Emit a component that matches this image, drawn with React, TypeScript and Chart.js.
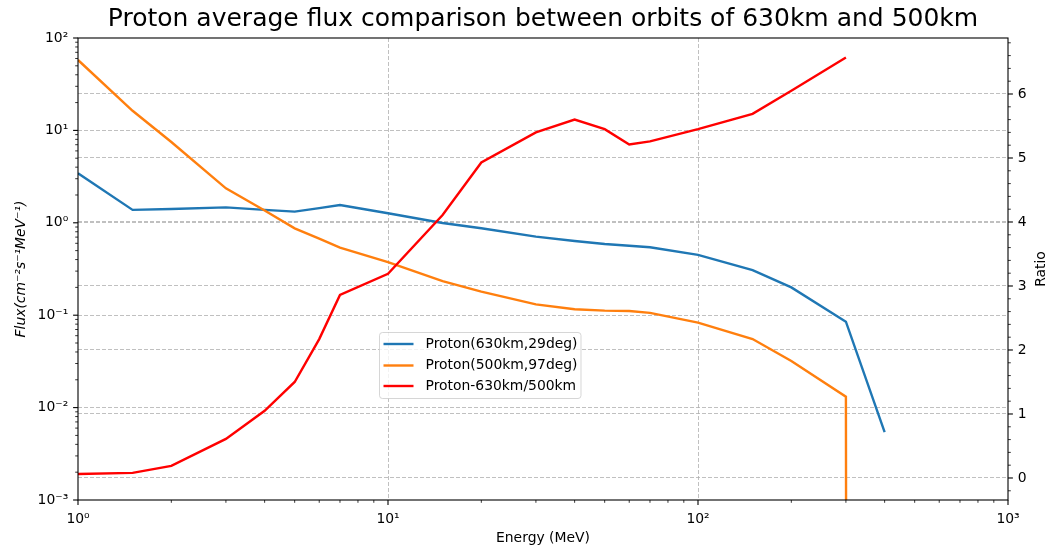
import React, { useEffect, useRef } from "react";
import { Chart, registerables } from "chart.js";

Chart.register(...registerables);

// ---------------- data ----------------
const ENERGY_MEV = [1, 1.5, 2, 3, 4, 5, 6, 7, 10, 15, 20, 30, 40, 50, 60, 70, 100, 150, 200, 300, 400];
const FLUX_630KM = [3.43, 1.38, 1.41, 1.47, 1.38, 1.32, 1.44, 1.56, 1.27, 0.995, 0.873, 0.708, 0.636, 0.59, 0.565, 0.543, 0.449, 0.308, 0.2, 0.085, 0.00544];
const FLUX_500KM = [57.8, 16.3, 7.49, 2.36, 1.36, 0.871, 0.675, 0.538, 0.375, 0.234, 0.18, 0.131, 0.116, 0.112, 0.111, 0.106, 0.083, 0.0552, 0.0319, 0.0131, 0];
const RATIO = [0.0625, 0.08, 0.19, 0.61, 1.05, 1.5, 2.17, 2.86, 3.19, 4.11, 4.93, 5.4, 5.6, 5.45, 5.21, 5.26, 5.45, 5.69, 6.05, 6.57, null];

const SERIES_LABELS = ["Proton(630km,29deg)", "Proton(500km,97deg)", "Proton-630km/500km"];
const TITLE = "Proton average flux comparison between orbits of 630km and 500km";
const X_LABEL = "Energy (MeV)";
const Y_LABEL = "Flux(cm⁻²s⁻¹MeV⁻¹)";
const Y2_LABEL = "Ratio";

const X_MAJOR = [1, 10, 100, 1000];
const Y_MAJOR = [1e-3, 1e-2, 1e-1, 1, 10, 100];
const RATIO_MAJOR = [0, 1, 2, 3, 4, 5, 6];
const RATIO_RANGE = [-0.344, 6.875];

// ---------------- helpers ----------------
const FONT = "DejaVu Sans";
const FS = 13.9;
const LW = 2.4;
const GRID_COLOR = "#b0b0b0";
const GRID_DASH = [4, 2];
const LOG_CLIP = 1e-300; // like matplotlib's nonpositive='clip'

const SUP: Record<string, string> = {
  "-": "⁻", "0": "⁰", "1": "¹", "2": "²", "3": "³", "4": "⁴", "5": "⁵", "6": "⁶", "7": "⁷", "8": "⁸", "9": "⁹",
};
const pow10Label = (v: number) =>
  "10" + String(Math.round(Math.log10(v))).split("").map((c) => SUP[c]).join("");

function logTicks(majors: number[]) {
  const out: any[] = [];
  majors.forEach((m, i) => {
    out.push({ value: m, isMajor: true });
    if (i < majors.length - 1) {
      for (let k = 2; k <= 9; k++) out.push({ value: m * k, isMajor: false });
    }
  });
  return out;
}
function linTicks(majors: number[], range: number[]) {
  const out: any[] = [];
  const lo = Math.ceil(range[0] * 5);
  const hi = Math.floor(range[1] * 5);
  for (let i = lo; i <= hi; i++) {
    const v = i / 5;
    out.push({ value: v, isMajor: majors.includes(v) });
  }
  return out;
}

const gridColorFor = (ctx: any, lo: number, hi: number) => {
  const t = ctx.tick;
  if (!t || !t.isMajor) return "transparent";
  if (t.value <= lo || t.value >= hi) return "transparent";
  return GRID_COLOR;
};

const decorPlugin = {
  id: "decor",
  afterDraw(chart: any) {
    const ctx = chart.ctx as CanvasRenderingContext2D;
    const ca = chart.chartArea;
    ctx.save();
    ctx.strokeStyle = "#000";
    // tick marks
    for (const id of ["x", "y", "y2"]) {
      const s = chart.scales[id];
      for (const t of s.ticks) {
        const major = t.isMajor;
        const len = major ? 4.9 : 2.8;
        ctx.lineWidth = major ? 1.1 : 0.8;
        const p = s.getPixelForValue(t.value);
        ctx.beginPath();
        if (id === "x") {
          ctx.moveTo(p, ca.bottom);
          ctx.lineTo(p, ca.bottom + len);
        } else if (id === "y") {
          ctx.moveTo(ca.left, p);
          ctx.lineTo(ca.left - len, p);
        } else {
          ctx.moveTo(ca.right, p);
          ctx.lineTo(ca.right + len, p);
        }
        ctx.stroke();
      }
    }
    // frame
    ctx.lineWidth = 1.1;
    ctx.strokeRect(ca.left, ca.top, ca.right - ca.left, ca.bottom - ca.top);

    // right axis label (reads bottom-to-top as in matplotlib)
    ctx.save();
    ctx.translate(ca.right + 33, (ca.top + ca.bottom) / 2);
    ctx.rotate(-Math.PI / 2);
    ctx.fillStyle = "#000";
    ctx.font = `${FS}px "${FONT}"`;
    ctx.textAlign = "center";
    ctx.textBaseline = "middle";
    ctx.fillText(Y2_LABEL, 0, 0);
    ctx.restore();

    // legend
    const lx = ca.left + 301.5;
    const ly = ca.top + 294.5;
    const lw = 201.5;
    const lh = 66;
    const r = 3;
    ctx.beginPath();
    ctx.moveTo(lx + r, ly);
    ctx.lineTo(lx + lw - r, ly);
    ctx.arcTo(lx + lw, ly, lx + lw, ly + r, r);
    ctx.lineTo(lx + lw, ly + lh - r);
    ctx.arcTo(lx + lw, ly + lh, lx + lw - r, ly + lh, r);
    ctx.lineTo(lx + r, ly + lh);
    ctx.arcTo(lx, ly + lh, lx, ly + lh - r, r);
    ctx.lineTo(lx, ly + r);
    ctx.arcTo(lx, ly, lx + r, ly, r);
    ctx.closePath();
    ctx.fillStyle = "rgba(255,255,255,0.8)";
    ctx.fill();
    ctx.strokeStyle = "rgba(204,204,204,0.8)";
    ctx.lineWidth = 1;
    ctx.stroke();
    const rows = [11.5, 33, 53.5];
    chart.data.datasets.forEach((ds: any, i: number) => {
      const yy = ly + rows[i];
      ctx.strokeStyle = ds.borderColor;
      ctx.lineWidth = LW;
      ctx.beginPath();
      ctx.moveTo(lx + 4, yy);
      ctx.lineTo(lx + 34, yy);
      ctx.stroke();
      ctx.fillStyle = "#000";
      ctx.font = `${FS}px "${FONT}"`;
      ctx.textAlign = "left";
      ctx.textBaseline = "middle";
      ctx.fillText(ds.label, lx + 46, yy);
    });
    ctx.restore();
  },
};

export default function App() {
  const ref = useRef<HTMLCanvasElement | null>(null);

  useEffect(() => {
    if (!ref.current) return;
    Chart.defaults.font.family = FONT;
    Chart.defaults.color = "#000";

    const pts = (ys: (number | null)[], floor: boolean) =>
      ENERGY_MEV.map((x, i) => {
        const y = ys[i];
        if (y === null) return { x, y: null };
        return { x, y: floor && y <= 0 ? LOG_CLIP : y };
      });

    const chart = new Chart(ref.current, {
      type: "line",
      data: {
        datasets: [
          {
            label: SERIES_LABELS[0],
            data: pts(FLUX_630KM, true) as any,
            borderColor: "#1f77b4",
            backgroundColor: "#1f77b4",
            borderWidth: LW,
            pointRadius: 0,
            tension: 0,
            yAxisID: "y",
            order: 3,
          },
          {
            label: SERIES_LABELS[1],
            data: pts(FLUX_500KM, true) as any,
            borderColor: "#ff7f0e",
            backgroundColor: "#ff7f0e",
            borderWidth: LW,
            pointRadius: 0,
            tension: 0,
            yAxisID: "y",
            order: 2,
          },
          {
            label: SERIES_LABELS[2],
            data: pts(RATIO, false) as any,
            borderColor: "#ff0000",
            backgroundColor: "#ff0000",
            borderWidth: LW,
            pointRadius: 0,
            tension: 0,
            yAxisID: "y2",
            order: 1,
          },
        ],
      },
      options: {
        animation: false,
        responsive: false,
        events: [],
        layout: { padding: 0 },
        plugins: {
          legend: { display: false },
          tooltip: { enabled: false },
          title: {
            display: true,
            text: TITLE,
            fullSize: false,
            color: "#000",
            font: { size: 25, weight: "normal", family: FONT, lineHeight: 1.2 },
            padding: { top: 4.3, bottom: 3.7 },
          },
        },
        scales: {
          x: {
            type: "logarithmic",
            position: "bottom",
            min: 1,
            max: 1000,
            afterBuildTicks: (s: any) => {
              s.ticks = logTicks(X_MAJOR);
            },
            afterFit: (s: any) => {
              s.height = 57;
            },
            ticks: {
              autoSkip: false,
              maxRotation: 0,
              minRotation: 0,
              padding: 11.5,
              font: { size: FS },
              callback: (v: any, i: number, ticks: any[]) => (ticks[i] && ticks[i].isMajor ? pow10Label(Number(v)) : ""),
            },
            grid: {
              drawTicks: false,
              lineWidth: 0.8,
              color: (ctx: any) => gridColorFor(ctx, 1, 1000),
            },
            border: { display: false, dash: GRID_DASH },
            title: {
              display: true,
              text: X_LABEL,
              font: { size: FS },
              padding: { top: 0, bottom: 10.5 },
            },
          },
          y: {
            type: "logarithmic",
            position: "left",
            min: 1e-3,
            max: 100,
            afterBuildTicks: (s: any) => {
              s.ticks = logTicks(Y_MAJOR);
            },
            afterFit: (s: any) => {
              s.width = 78;
            },
            ticks: {
              autoSkip: false,
              padding: 9.8,
              font: { size: FS },
              callback: (v: any, i: number, ticks: any[]) => (ticks[i] && ticks[i].isMajor ? pow10Label(Number(v)) : ""),
            },
            grid: {
              drawTicks: false,
              lineWidth: 0.8,
              color: (ctx: any) => gridColorFor(ctx, 1e-3, 100),
            },
            border: { display: false, dash: GRID_DASH },
            title: {
              display: true,
              text: Y_LABEL,
              font: { size: FS, style: "italic" },
              padding: { top: 12.7, bottom: 0 },
            },
          },
          y2: {
            type: "linear",
            position: "right",
            min: RATIO_RANGE[0],
            max: RATIO_RANGE[1],
            afterBuildTicks: (s: any) => {
              s.ticks = linTicks(RATIO_MAJOR, RATIO_RANGE);
            },
            afterFit: (s: any) => {
              s.width = 48;
            },
            ticks: {
              autoSkip: false,
              padding: 9.8,
              font: { size: FS },
              callback: (v: any, i: number, ticks: any[]) => (ticks[i] && ticks[i].isMajor ? String(Math.round(Number(v))) : ""),
            },
            grid: {
              drawTicks: false,
              lineWidth: 0.8,
              color: (ctx: any) => gridColorFor(ctx, RATIO_RANGE[0], RATIO_RANGE[1]),
            },
            border: { display: false, dash: GRID_DASH },
            title: { display: false },
          },
        },
      },
      plugins: [decorPlugin],
    } as any);

    return () => chart.destroy();
  }, []);

  return (
    <div style={{ position: "absolute", left: 0, top: 0, width: 1056, height: 557, background: "#fff" }}>
      <canvas ref={ref} width={1056} height={557} style={{ width: 1056, height: 557, display: "block" }} />
    </div>
  );
}
